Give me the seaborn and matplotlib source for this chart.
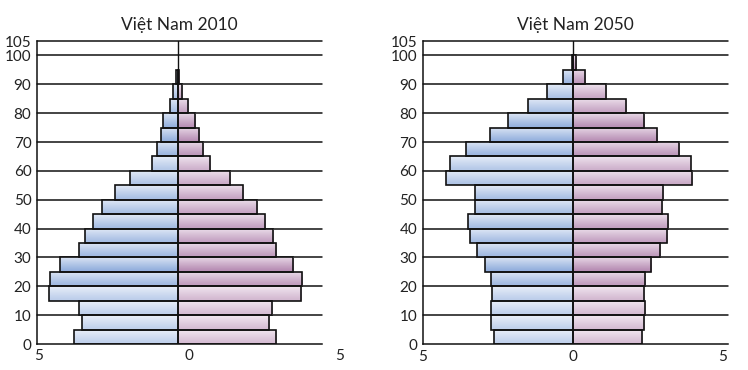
import numpy as np
import pandas as pd
import matplotlib
matplotlib.use("Agg")
import matplotlib.pyplot as plt
from matplotlib.colors import to_rgb
import seaborn as sns

# ---------------- data ----------------
age_groups = ["0-4", "5-9", "10-14", "15-19", "20-24", "25-29", "30-34", "35-39",
              "40-44", "45-49", "50-54", "55-59", "60-64", "65-69", "70-74", "75-79",
              "80-84", "85-89", "90-94", "95-99"]
age_start = [0, 5, 10, 15, 20, 25, 30, 35, 40, 45, 50, 55, 60, 65, 70, 75, 80, 85, 90, 95]

male_2010 = [3.68, 3.41, 3.49, 4.56, 4.52, 4.17, 3.49, 3.31, 2.99, 2.68, 2.21, 1.70,
             0.92, 0.74, 0.60, 0.51, 0.27, 0.15, 0.04, 0.0]
female_2010 = [3.52, 3.25, 3.35, 4.38, 4.42, 4.12, 3.52, 3.41, 3.12, 2.84, 2.34, 1.88,
               1.17, 0.91, 0.77, 0.63, 0.39, 0.17, 0.04, 0.0]

male_2050 = [2.63, 2.73, 2.73, 2.70, 2.73, 2.93, 3.20, 3.43, 3.50, 3.27, 3.27, 4.21,
             4.10, 3.57, 2.77, 2.17, 1.50, 0.87, 0.33, 0.03]
female_2050 = [2.32, 2.39, 2.42, 2.39, 2.42, 2.62, 2.92, 3.15, 3.19, 2.99, 3.02, 3.97,
               3.93, 3.55, 2.82, 2.39, 1.79, 1.12, 0.42, 0.12]

titles = ["Việt Nam 2010", "Việt Nam 2050"]
y_ticks = [0, 10, 20, 30, 40, 50, 60, 70, 80, 90, 100, 105]
x_tick_labels = ["5", "0", "5"]

# ---------------- style ----------------
# shading (darkness) per age band, same for both panels
shade = [0.15, 0.15, 0.15, 0.2, 0.55, 0.75, 0.55, 0.5, 0.5, 0.45, 0.45, 0.35,
         0.3, 0.6, 0.7, 0.7, 0.45, 0.4, 0.6, 0.6]
male_light, male_dark = np.array(to_rgb("#f0f4fb")), np.array(to_rgb("#7196d2"))
fem_light, fem_dark = np.array(to_rgb("#f6eef5")), np.array(to_rgb("#a06a9c"))

sns.set_theme(style="white")
plt.rcParams["font.family"] = ["Lato", "DejaVu Sans"]

fig = plt.figure(figsize=(7.48, 3.70), dpi=100)
ax_left = fig.add_axes([37 / 748, 1 - 344 / 370, (322 - 37) / 748, (344 - 41) / 370])
ax_right = fig.add_axes([422.7 / 748, 1 - 344 / 370, (727.7 - 422.7) / 748, (344 - 41) / 370])

panels = [
    (ax_left, male_2010, female_2010, (-5, 5.14)),
    (ax_right, male_2050, female_2050, (-5, 5.17)),
]

mid = [a + 2.5 for a in age_start]

for i, (ax, male, female, xl) in enumerate(panels):
    df = pd.DataFrame({
        "age": mid * 2,
        "value": [-v for v in male] + list(female),
        "sex": ["M"] * len(male) + ["F"] * len(female),
    })
    sns.barplot(data=df, x="value", y="age", hue="sex", orient="h", native_scale=True,
                dodge=False, width=1.0, palette={"M": "#8fb0e0", "F": "#b985b4"},
                edgecolor="#111111", linewidth=1.2, legend=False, ax=ax, zorder=3)
    ax.set_xlim(*xl)
    ax.set_ylim(0, 105)

    # gradient fill inside each bar
    for p in list(ax.patches):
        x0, y0 = p.get_x(), p.get_y()
        w, h = p.get_width(), p.get_height()
        if abs(w) < 1e-9:
            p.set_visible(False)
            continue
        band = int(round((y0 + h / 2 - 2.5) / 5))
        s = shade[band] if 0 <= band < len(shade) else 0.3
        if w < 0:
            light, dark = male_light, male_dark
        else:
            light, dark = fem_light, fem_dark
        top = light + (dark - light) * (0.2 * s)
        bot = light + (dark - light) * (0.3 + 0.65 * s) * 0.92
        t = np.linspace(0, 1, 40)[:, None]
        prof = np.clip(t * 1.15, 0, 1) ** 0.9
        cols = top[None, :] * (1 - prof) + bot[None, :] * prof
        img = cols[:, None, :]
        xa, xb = sorted([x0, x0 + w])
        ya, yb = sorted([y0, y0 + h])
        im = ax.imshow(img, extent=(xa, xb, ya, yb), origin="upper", aspect="auto",
                       zorder=2, interpolation="bilinear")
        im.set_clip_path(p)
        p.set_facecolor("none")
        p.set_zorder(3)

    ax.set_xlim(*xl)
    ax.set_ylim(0, 105)

    # grid lines
    for yv in y_ticks[1:]:
        ax.axhline(yv, color="#111111", lw=1.1, zorder=1, clip_on=False)
    ax.axvline(0, color="#111111", lw=1.0, zorder=1)

    for side in ["top", "right"]:
        ax.spines[side].set_visible(False)
    for side in ["left", "bottom"]:
        ax.spines[side].set_color("#111111")
        ax.spines[side].set_linewidth(1.1)
        ax.spines[side].set_zorder(4)

    ax.set_yticks(y_ticks)
    ax.set_yticklabels([str(v) for v in y_ticks], fontsize=11, color="#222222")
    ax.tick_params(axis="y", length=0, pad=4)
    ax.set_xlabel("")
    ax.set_ylabel("")
    ax.set_title(titles[i], fontsize=12.5, color="#222222", pad=8)

    if i == 0:
        ax.set_xticks([])
        for xv, lab in zip([-4.95, 0.41, 5.77], x_tick_labels):
            ax.text(xv, -4.3, lab, ha="center", va="center", fontsize=11,
                    color="#222222", clip_on=False)
    else:
        ax.set_xticks([-5, 0, 5])
        ax.set_xticklabels(x_tick_labels, fontsize=11, color="#222222")
        ax.tick_params(axis="x", length=0, pad=4)

fig.savefig("out.png", dpi=100, facecolor="white")
